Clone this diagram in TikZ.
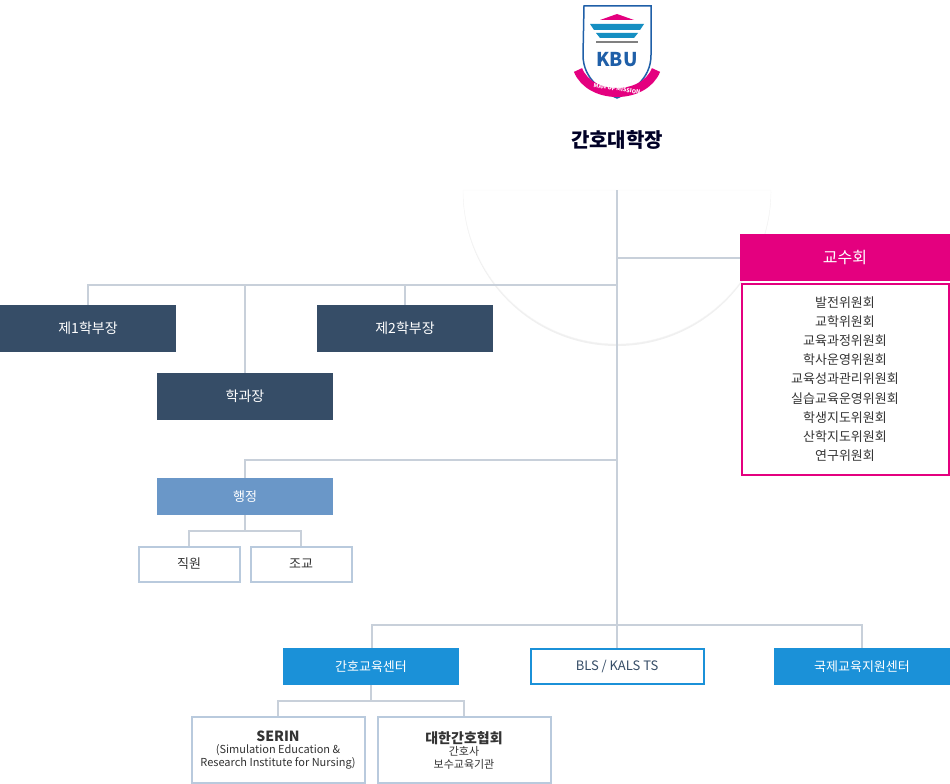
\documentclass[tikz,border=0pt]{standalone}
\usepackage{fontspec}
\setmainfont{Noto Sans CJK KR}
\usetikzlibrary{shadows}
\definecolor{ln}{HTML}{C8D0DA}
\definecolor{dk}{HTML}{364D67}
\definecolor{mg}{HTML}{E4007F}
\definecolor{md}{HTML}{6A97C8}
\definecolor{lb}{HTML}{B9CADD}
\definecolor{bl}{HTML}{1B91D8}
\definecolor{kb}{HTML}{1F5FA8}
\definecolor{tx}{HTML}{333333}
\begin{document}
\begin{tikzpicture}[x=1pt,y=-1pt,
  box/.style={draw=none,rectangle,minimum width=176pt,minimum height=47pt,inner sep=0pt,font=\fontsize{14}{16}\selectfont},
  dbox/.style={box,fill=dk,text=white},
  sbox/.style={box,fill=bl,text=white,minimum height=37pt,font=\fontsize{13}{15}\selectfont},
  obox/.style={rectangle,draw=lb,line width=2pt,fill=white,inner sep=0pt,text=tx,font=\fontsize{13}{15}\selectfont},
  conn/.style={draw=ln,line width=2pt}]
\useasboundingbox (0,0) rectangle (950,784);
% semicircle
\fill[gray!12] (463,192) arc[start angle=180,end angle=0,radius=154] -- cycle;
\fill[white,draw=gray!8] (463,190) arc[start angle=180,end angle=0,radius=154] -- cycle;
% logo
\coordinate (lg) at (617,0);
\fill[white,draw=kb,line width=1.5pt] (584,6) -- (651,6) -- (651,55) .. controls (651,80) and (630,92) .. (617,98) .. controls (604,92) and (583,80) .. (583,55) -- cycle;
\fill[mg] (600,20) -- (617,14) -- (634,20) -- cycle;
\fill[kb!70!cyan] (590,24) -- (644,24) -- (640,30) -- (594,30) -- cycle;
\fill[kb!70!cyan] (596,33) -- (638,33) -- (634,38) -- (600,38) -- cycle;
\fill[gray] (596,41) -- (638,41) -- (638,43) -- (596,43) -- cycle;
\node[text=kb,font=\bfseries\fontsize{19}{19}\selectfont] (kbu) at (617,60) {KBU};
\draw[mg,line width=9pt] (578,70) .. controls (590,100) and (644,100) .. (656,70);
\node[text=white,font=\bfseries\fontsize{5.5}{6}\selectfont,rotate=-8] (mom) at (617,89) {MAN OF MISSION};
\node[text=black!85!blue,font=\bfseries\fontsize{20}{22}\selectfont] (dean) at (617,140) {간호대학장};
\coordinate (top) at (617,190);
% connectors
\draw[conn] (top) -- (617,625);
\draw[conn] (617,258) -- (740,258);
\draw[conn] (88,305) -- (88,285) -- (617,285);
\draw[conn] (245,285) -- (245,373);
\draw[conn] (405,285) -- (405,305);
\draw[conn] (245,478) -- (245,460) -- (617,460);
\draw[conn] (189,546) -- (189,531) -- (301,531) -- (301,546);
\draw[conn] (245,515) -- (245,531);
\draw[conn] (372,648) -- (372,625) -- (862,625) -- (862,648);
\draw[conn] (617,625) -- (617,648);
\draw[conn] (278,716) -- (278,701) -- (464,701) -- (464,716);
\draw[conn] (371,685) -- (371,701);
% boxes
\node[dbox] (d1) at (88,328.5) {제1학부장};
\node[dbox] (d2) at (405,328.5) {제2학부장};
\node[dbox] (hk) at (245,396.5) {학과장};
\node[box,fill=mg,text=white,minimum width=210pt,font=\fontsize{16}{18}\selectfont] (gs) at (845,257.5) {교수회};
\node[rectangle,draw=mg,line width=2pt,minimum width=207pt,minimum height=191pt,inner sep=0pt] (gl) at (845,379) {};
\node[text=tx,align=center,font=\fontsize{13}{19.2}\selectfont] (glt) at (845,379) {발전위원회\\교학위원회\\교육과정위원회\\학사운영위원회\\교육성과관리위원회\\실습교육운영위원회\\학생지도위원회\\산학지도위원회\\연구위원회};
\node[box,fill=md,text=white,minimum height=37pt,font=\fontsize{13}{15}\selectfont] (hj) at (245,496.5) {행정};
\node[obox,minimum width=101pt,minimum height=35pt] (jw) at (189,564) {직원};
\node[obox,minimum width=101pt,minimum height=35pt] (jg) at (301,564) {조교};
\node[sbox] (c1) at (371,666.5) {간호교육센터};
\node[rectangle,draw=bl,line width=2pt,fill=white,minimum width=173pt,minimum height=35pt,inner sep=0pt,text=dk,font=\fontsize{13}{15}\selectfont] (bls) at (617,666.5) {BLS / KALS TS};
\node[sbox] (c3) at (862,666.5) {국제교육지원센터};
\node[obox,minimum width=173pt,minimum height=66pt,align=center,font=\fontsize{11}{12.5}\selectfont] (se) at (278,750) {{\bfseries\fontsize{14}{18}\selectfont SERIN}\\(Simulation Education \&\\Research Institute for Nursing)};
\node[obox,minimum width=173pt,minimum height=66pt,align=center,font=\fontsize{11}{12.5}\selectfont] (kn) at (464,750) {{\bfseries\fontsize{14}{18}\selectfont 대한간호협회}\\간호사\\보수교육기관};
\end{tikzpicture}
\end{document}
